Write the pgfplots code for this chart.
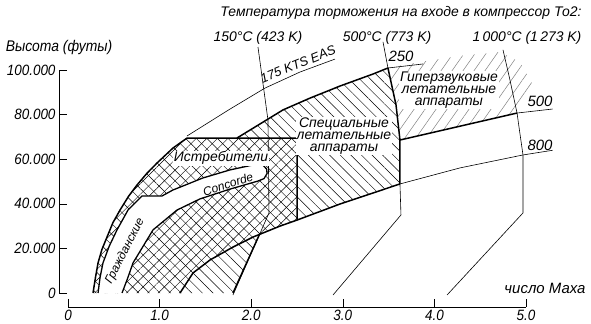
\documentclass[border=0pt]{standalone}
\usepackage{pgfplots}
\pgfplotsset{compat=1.18}
\usetikzlibrary{patterns.meta}
\usepackage{fontspec}
\setmainfont{Liberation Sans}
\newfontfamily\narrow{Liberation Sans}[FakeStretch=0.9]
\newcommand\fs[1]{\fontsize{#1}{#1}\selectfont\itshape}
\begin{document}
\begin{tikzpicture}
\begin{axis}[
  x=91.6bp, y=2.23bp,
  xmin=0, xmax=5, ymin=0, ymax=100,
  axis x line*=bottom, axis y line*=left,
  axis x line shift=14bp, axis y line shift=9bp,
  axis line style={-, line width=0.6pt},
  tick align=inside, major tick length=8bp,
  tick style={line width=0.6pt, black},
  xtick={0,1,2,3,4,5}, xticklabels={0,1.0,2.0,3.0,4.0,5.0},
  ytick={0,20,40,60,80,100},
  yticklabels={0,20.000,40.000,60.000,80.000,100.000},
  tick label style={font=\narrow\fs{15}},
  /pgf/number format/assume math mode=true,
  clip=false,
]
% special region (\\ hatch)
\addplot[draw=none, pattern={Lines[angle=-45,distance=7.5bp,line width=0.45pt]}, pattern color=black] coordinates {
(0.273,0)(0.300,7)(0.328,13.5)(0.37,19.5)(0.426,25.1)(0.49,31.5)(0.568,37.2)(0.66,43.3)(0.753,48.4)(0.86,53.6)(0.972,58.3)(1.146,65.0)(1.30,69.5)
(1.845,69.5)(2.096,75.8)(2.347,82.1)(2.642,87.4)(2.969,92.8)(3.330,98.2)(3.493,100.9)
(3.581,84.3)(3.624,68.6)(3.624,48.9)
(2.969,39.9)(2.500,32.7)(2.314,30.0)(2.095,26.7)(1.801,0)} -- cycle;
% fighters (// hatch)
\addplot[draw=none, pattern={Lines[angle=45,distance=7.5bp,line width=0.45pt]}, pattern color=black] coordinates {
(0.273,0)(0.300,7)(0.328,13.5)(0.37,19.5)(0.426,25.1)(0.49,31.5)(0.568,37.2)(0.66,43.3)(0.753,48.4)(0.86,53.6)(0.972,58.3)(1.146,65.0)(1.30,69.5)
(2.50,69.5)(2.50,32.7)(2.314,30.0)(2.020,25.1)(1.801,20.6)(1.550,14.8)(1.365,9.0)(1.223,0)} -- cycle;
% hypersonic
\addplot[draw=none, pattern={Lines[angle=55,distance=9bp,line width=0.5pt]}, pattern color=black!50] coordinates {
(3.493,100.9)(3.843,103.6)(4.279,106.3)(4.716,108.1)(4.934,103.6)(5.076,93.3)(4.902,80.7)(3.624,68.6)(3.581,84.3)} -- cycle;
% civil + Concorde (white)
\addplot[fill=white, draw=none] coordinates {
(0.328,0)(0.35,7)(0.382,13.5)(0.45,21)(0.535,28.3)(0.655,37.2)(0.808,43.5)(1.026,43.5)(1.146,46.2)(1.474,51.6)(1.769,55.2)(2.063,57.8)(2.13,57.3)(2.17,55.5)(2.172,53.5)(2.14,51.3)(2.074,50.2)(1.769,46.6)(1.441,42.2)(1.190,37.2)(0.928,28.3)(0.710,13.5)(0.65,6.5)(0.590,0)} -- cycle;
% thick lines
\addplot[line width=1.5pt, line join=round] coordinates {
(0.273,0)(0.300,7)(0.328,13.5)(0.37,19.5)(0.426,25.1)(0.49,31.5)(0.568,37.2)(0.66,43.3)(0.753,48.4)(0.86,53.6)(0.972,58.3)(1.146,65.0)(1.30,69.5)(2.50,69.5)(2.50,32.7)};
\addplot[line width=1.5pt, line join=round] coordinates {
(1.223,0)(1.365,9.0)(1.550,14.8)(1.801,20.6)(2.020,25.1)(2.314,30.0)(2.500,32.7)(2.969,39.9)(3.624,48.9)};
\addplot[line width=1.5pt, line join=round] coordinates {
(1.845,69.5)(2.096,75.8)(2.347,82.1)(2.642,87.4)(2.969,92.8)(3.330,98.2)(3.493,100.9)(3.581,84.3)(3.624,68.6)(3.624,48.9)};
\addplot[line width=1.5pt] coordinates {(3.624,68.6)(4.902,80.7)};
\addplot[line width=1.5pt] coordinates {(2.095,26.7)(1.801,0)};
\addplot[line width=1.3pt, line join=round] coordinates {
(0.590,0)(0.65,6.5)(0.710,13.5)(0.928,28.3)(1.190,37.2)(1.441,42.2)(1.769,46.6)(2.074,50.2)(2.14,51.3)(2.172,53.5)(2.17,55.5)(2.13,57.3)(2.063,57.8)(1.769,55.2)(1.474,51.6)(1.146,46.2)(1.026,43.5)(0.808,43.5)(0.655,37.2)(0.535,28.3)(0.45,21)(0.382,13.5)(0.35,7)(0.328,0)};
% thin lines
\addplot[line width=0.6pt] coordinates {(2.074,110.3)(2.183,77.6)(2.194,35.9)(1.801,-0.9)};
\addplot[line width=0.6pt] coordinates {(3.439,112.6)(3.493,100.9)};
\addplot[line width=0.6pt] coordinates {(3.624,48.9)(3.635,35.0)(2.893,-0.9)};
\addplot[line width=0.6pt] coordinates {(4.749,109.0)(4.825,95.5)(4.902,80.7)(4.967,61.9)(4.967,35.9)(4.138,-0.9)};
\addplot[line width=0.6pt] coordinates {(3.493,100.9)(3.876,102.7)};
\addplot[line width=0.6pt] coordinates {(4.902,80.7)(5.29,82.5)};
\addplot[line width=0.6pt] coordinates {(3.624,48.9)(4.28,56.1)(4.967,61.9)(5.29,64.0)};
\addplot[line width=0.6pt] coordinates {(1.299,70.4)(1.769,82.5)(2.151,91.9)(2.533,99.1)(2.915,104.9)};
% labels
\node[font=\narrow\fs{15.5}] at (axis cs:-0.098,109.9) {Высота (футы)};
\node[font=\fs{14}] at (axis cs:3.635,125.6) {Температура торможения на входе в компрессор То2:};
\node[font=\fs{14}] at (axis cs:2.074,114.3) {150°C (423 K)};
\node[font=\fs{14}] at (axis cs:3.483,114.3) {500°C (773 K)};
\node[font=\fs{14}] at (axis cs:5.011,114.3) {1\,000°C (1\,273 K)};
\node[font=\fs{13}, rotate=22] at (axis cs:2.511,102.6) {175 KTS EAS};
\node[font=\fs{15}] at (axis cs:3.635,106.3) {250};
\node[font=\fs{15}] at (axis cs:5.153,85.9) {500};
\node[font=\fs{15}] at (axis cs:5.153,66.3) {800};
\node[font=\fs{14}, fill=white, inner sep=1pt] at (axis cs:1.670,60.5) {Истребители};
\node[font=\fs{12}, rotate=18, inner sep=1pt] at (axis cs:1.747,48.9) {Concorde};
\node[font=\fs{12}, rotate=63, inner sep=1pt] at (axis cs:0.622,18.8) {Гражданские};
\node[font=\fs{14}, fill=white, inner sep=1pt, align=center] at (axis cs:3.013,70.4) {Специальные\\[-2pt]летательные\\[-2pt]аппараты};
\node[font=\fs{14}, fill=white, inner sep=1pt, align=center] at (axis cs:4.159,91.0) {Гиперзвуковые\\[-2pt]летательные\\[-2pt]аппараты};
\node[font=\fs{15}] at (axis cs:5.207,2.2) {число Маха};
\coordinate (BL) at (axis cs:-0.7424,-13.90);
\coordinate (TR) at (axis cs:5.7096,131.39);
\end{axis}
\pgfresetboundingbox
\path[use as bounding box] (BL) rectangle (TR);
\end{tikzpicture}
\end{document}
